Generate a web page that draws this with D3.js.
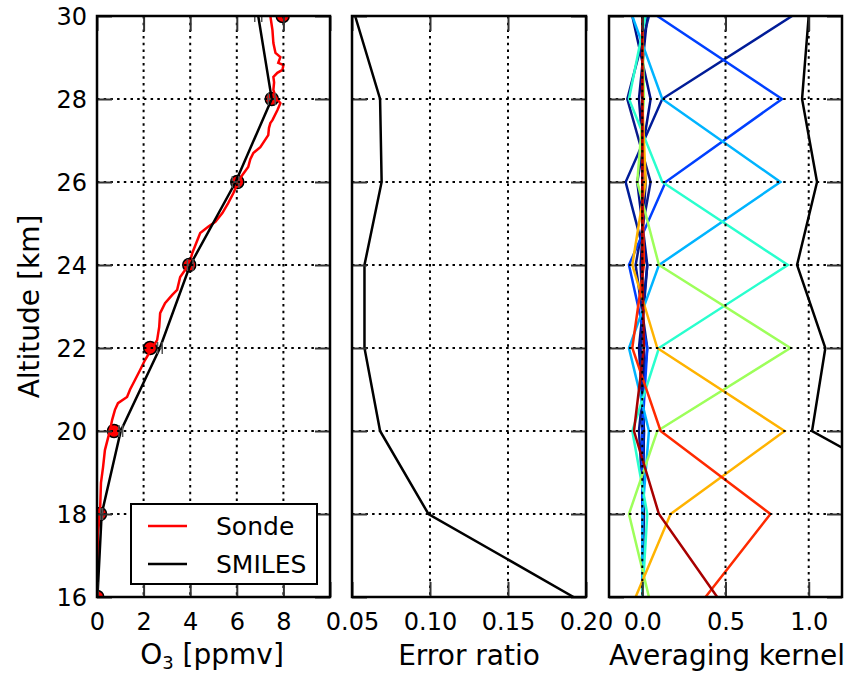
<!DOCTYPE html>
<html>
<head>
<meta charset="utf-8">
<script src="https://cdn.jsdelivr.net/npm/d3@7"></script>
<style>
  body { margin: 0; background: #fff; }
  svg { display: block; }
  text { font-family: "DejaVu Sans", sans-serif; fill: #000; }
</style>
</head>
<body>
<div id="chart"></div>
<script>
// retrieval grid
const altitudes = [16, 18, 20, 22, 24, 26, 28, 30];

// ozonesonde profile (km, ppmv)
const sondeAlt = [16.0, 16.6, 17.2, 17.54, 18.02, 18.4, 18.75, 19.13, 19.54, 20.02, 20.27, 20.51, 20.67, 20.82, 21.0,
  21.23, 21.47, 21.71, 22.0, 22.19, 22.51, 22.84, 23.08, 23.28, 23.40, 23.71, 23.88, 24.02, 24.29, 24.53, 24.77,
  24.92, 25.04, 25.25, 25.49, 25.73, 26.0, 26.17, 26.36, 26.55, 26.70, 26.84, 27.13, 27.30, 27.42, 27.49, 27.73,
  27.90, 28.05, 28.22, 28.40, 28.53, 28.63, 28.70, 28.82, 28.87, 29.01, 29.11, 29.35, 29.66, 30.0];
const sondeO3 = [0.02, 0.02, 0.03, 0.04, 0.13, 0.15, 0.17, 0.26, 0.34, 0.56, 0.65, 0.77, 0.90, 1.29, 1.42,
  1.63, 1.85, 2.06, 2.37, 2.58, 2.67, 2.71, 2.92, 3.23, 3.44, 3.57, 3.78, 3.96, 4.09, 4.26, 4.43,
  4.77, 5.08, 5.38, 5.63, 5.85, 6.06, 6.24, 6.49, 6.58, 6.71, 7.01, 7.35, 7.38, 7.44, 7.53, 7.74,
  7.87, 7.66, 7.57, 7.60, 7.57, 7.74, 7.96, 8.0, 7.78, 7.87, 7.66, 7.57, 7.53, 7.44];

// sonde sampled on the grid, SMILES retrieval and its error
const sondeOnGrid = [0.01, 0.13, 0.73, 2.28, 3.96, 6.02, 7.50, 7.97];
const smilesO3 = [0.02, 0.20, 1.02, 2.70, 4.00, 5.95, 7.50, 6.92];
const smilesErr = [0.02, 0.04, 0.08, 0.10, 0.12, 0.14, 0.15, 0.15];

// error ratio
const errorRatio = [0.192, 0.099, 0.068, 0.058, 0.058, 0.069, 0.068, 0.052];

// averaging kernels (one row per kernel, values at the grid altitudes)
const kernelColors = ["#a80000", "#ff2a00", "#ffb300", "#9dff5a", "#29ffce", "#00b4ff", "#0040ff", "#001c98",
  "#0a1a8c", "#00108a", "#000c80"];
const kernelRows = [
  [0.45, 0.10, -0.05, 0.01, 0.00, 0.00, 0.00, 0.00],
  [0.38, 0.77, 0.11, -0.06, 0.01, 0.00, 0.00, 0.00],
  [-0.04, 0.17, 0.855, 0.09, -0.06, 0.02, 0.00, 0.00],
  [0.04, -0.08, 0.09, 0.89, 0.10, -0.03, 0.01, 0.00],
  [0.00, 0.03, -0.06, 0.10, 0.875, 0.12, -0.08, 0.02],
  [0.00, 0.00, 0.04, -0.08, 0.10, 0.83, 0.12, -0.06],
  [0.00, 0.00, 0.00, 0.03, -0.08, 0.14, 0.84, 0.09],
  [0.00, 0.00, 0.01, -0.01, 0.03, -0.10, 0.12, 0.90],
  [0.00, 0.01, -0.02, 0.03, -0.04, 0.05, -0.09, 0.04],
  [0.00, 0.00, 0.01, -0.02, 0.03, -0.03, 0.05, -0.06],
  [0.00, 0.00, 0.00, 0.01, -0.01, 0.02, -0.02, 0.03]
];
const measResponse = [1.6, 1.92, 1.02, 1.10, 0.93, 1.05, 0.96, 1.00];

const width = 852, height = 674;
const plotTop = 16, plotBottom = 597;

const svg = d3.select("#chart").append("svg")
  .attr("width", width)
  .attr("height", height);

const y = d3.scaleLinear().domain([16, 30]).range([plotBottom, plotTop]);
const yTicks = d3.range(16, 31, 2);

const x1 = d3.scaleLinear().domain([0, 10]).range([97, 330]);
const x2 = d3.scaleLinear().domain([0.05, 0.20]).range([352, 586]);
const x3 = d3.scaleLinear().domain([-0.2, 1.2]).range([609, 842]);

// draws frame parts of one panel, returns the data group
function makePanel(id, x, xTicks, fmt, gridX) {
  const [l, r] = x.range();
  const g = svg.append("g");

  g.append("clipPath").attr("id", id)
    .append("rect").attr("x", l).attr("y", plotTop).attr("width", r - l).attr("height", plotBottom - plotTop);

  const data = g.append("g").attr("clip-path", `url(#${id})`);

  // grid (drawn above the data, like matplotlib classic)
  const grid = g.append("g")
    .attr("stroke", "#000")
    .attr("stroke-width", 2)
    .attr("stroke-dasharray", "2.5,4.2");
  grid.selectAll(".gx").data(gridX).join("line")
    .attr("x1", d => x(d)).attr("x2", d => x(d))
    .attr("y1", plotTop).attr("y2", plotBottom);
  grid.selectAll(".gy").data(yTicks.slice(1, -1)).join("line")
    .attr("x1", l).attr("x2", r)
    .attr("y1", d => y(d)).attr("y2", d => y(d));

  // inward ticks on all sides
  const axB = g.append("g").attr("transform", `translate(0,${plotBottom})`)
    .call(d3.axisBottom(x).tickValues(xTicks).tickSize(-15).tickPadding(0).tickFormat(fmt));
  const axT = g.append("g").attr("transform", `translate(0,${plotTop})`)
    .call(d3.axisTop(x).tickValues(xTicks).tickSize(-15).tickFormat(""));
  const axL = g.append("g").attr("transform", `translate(${l},0)`)
    .call(d3.axisLeft(y).tickValues(yTicks).tickSize(-15).tickPadding(10).tickFormat(id === "p1" ? d3.format("d") : ""));
  const axR = g.append("g").attr("transform", `translate(${r},0)`)
    .call(d3.axisRight(y).tickValues(yTicks).tickSize(-15).tickFormat(""));

  [axB, axT, axL, axR].forEach(a => {
    a.select(".domain").remove();
    a.selectAll(".tick line").attr("stroke", "#333").attr("stroke-width", 2);
    a.selectAll("text").style("font-size", "24px").attr("fill", "#000");
  });
  axB.selectAll("text").attr("dy", null).attr("y", 33);
  axL.selectAll("text").attr("dy", "0.35em");

  g.append("rect")
    .attr("x", l).attr("y", plotTop)
    .attr("width", r - l).attr("height", plotBottom - plotTop)
    .attr("fill", "none").attr("stroke", "#000").attr("stroke-width", 2.5);

  return { g, data };
}

// panel 1: ozone
const p1 = makePanel("p1", x1, [0, 2, 4, 6, 8, 10], d => d === 10 ? "" : d3.format("d")(d), [2, 4, 6, 8]);
const line1 = d3.line().x(d => x1(d[1])).y(d => y(d[0]));

p1.data.selectAll("circle").data(d3.zip(altitudes, sondeOnGrid)).join("circle")
  .attr("cx", d => x1(d[1])).attr("cy", d => y(d[0])).attr("r", 6.5)
  .attr("fill", "#ff0000").attr("stroke", "#000").attr("stroke-width", 1.5);

p1.data.append("path").datum(d3.zip(sondeAlt, sondeO3))
  .attr("d", line1).attr("fill", "none").attr("stroke", "#ff0000").attr("stroke-width", 2.5);

p1.data.append("path").datum(d3.zip(altitudes, smilesO3))
  .attr("d", line1).attr("fill", "none").attr("stroke", "#000").attr("stroke-width", 2.5);

const eb = p1.data.append("g").attr("stroke", "#555").attr("stroke-width", 1.5);
d3.zip(altitudes, smilesO3, smilesErr).forEach(([a, v, e]) => {
  eb.append("line").attr("x1", x1(v - e)).attr("x2", x1(v + e)).attr("y1", y(a)).attr("y2", y(a));
  [v - e, v + e].forEach(c => eb.append("line")
    .attr("x1", x1(c)).attr("x2", x1(c)).attr("y1", y(a) - 6).attr("y2", y(a) + 6));
});

// legend
const lg = svg.append("g");
lg.append("rect").attr("x", 131).attr("y", 504).attr("width", 186).attr("height", 80)
  .attr("fill", "#fff").attr("stroke", "#000").attr("stroke-width", 2);
[["Sonde", "#ff0000", 526], ["SMILES", "#000", 564]].forEach(([name, c, ly]) => {
  lg.append("line").attr("x1", 148).attr("x2", 187).attr("y1", ly).attr("y2", ly)
    .attr("stroke", c).attr("stroke-width", 2.5);
  lg.append("text").attr("x", 216).attr("y", ly).attr("dy", "0.35em")
    .style("font-size", "25px").text(name);
});

// panel 2: error ratio
const p2 = makePanel("p2", x2, [0.05, 0.10, 0.15, 0.20], d3.format(".2f"), [0.10, 0.15]);
p2.data.append("path").datum(d3.zip(altitudes, errorRatio))
  .attr("d", d3.line().x(d => x2(d[1])).y(d => y(d[0])))
  .attr("fill", "none").attr("stroke", "#000").attr("stroke-width", 2.5);

// panel 3: averaging kernels
const p3 = makePanel("p3", x3, [0.0, 0.5, 1.0], d3.format(".1f"), [0.0, 0.5, 1.0]);
const line3 = d3.line().x(d => x3(d[1])).y(d => y(d[0]));
kernelRows.slice().reverse().forEach((row, i) => {
  const k = kernelRows.length - 1 - i;
  p3.data.append("path").datum(d3.zip(altitudes, row))
    .attr("d", line3).attr("fill", "none")
    .attr("stroke", kernelColors[k]).attr("stroke-width", 2.5);
});
p3.data.append("path").datum(d3.zip(altitudes, measResponse))
  .attr("d", line3).attr("fill", "none").attr("stroke", "#000").attr("stroke-width", 2.5);

// axis labels
const xl = svg.append("g").style("font-size", "28px");
const o3 = xl.append("text").attr("x", 212).attr("y", 664).attr("text-anchor", "middle");
o3.append("tspan").text("O");
o3.append("tspan").text("3").style("font-size", "18px").attr("dy", 5);
o3.append("tspan").text(" [ppmv]").attr("dy", -5);
xl.append("text").attr("x", 469).attr("y", 665).attr("text-anchor", "middle").text("Error ratio");
xl.append("text").attr("x", 727).attr("y", 665).attr("text-anchor", "middle").text("Averaging kernel");
svg.append("text")
  .attr("transform", `translate(39,${(plotTop + plotBottom) / 2}) rotate(-90)`)
  .attr("text-anchor", "middle")
  .style("font-size", "28px")
  .text("Altitude [km]");
</script>
</body>
</html>
